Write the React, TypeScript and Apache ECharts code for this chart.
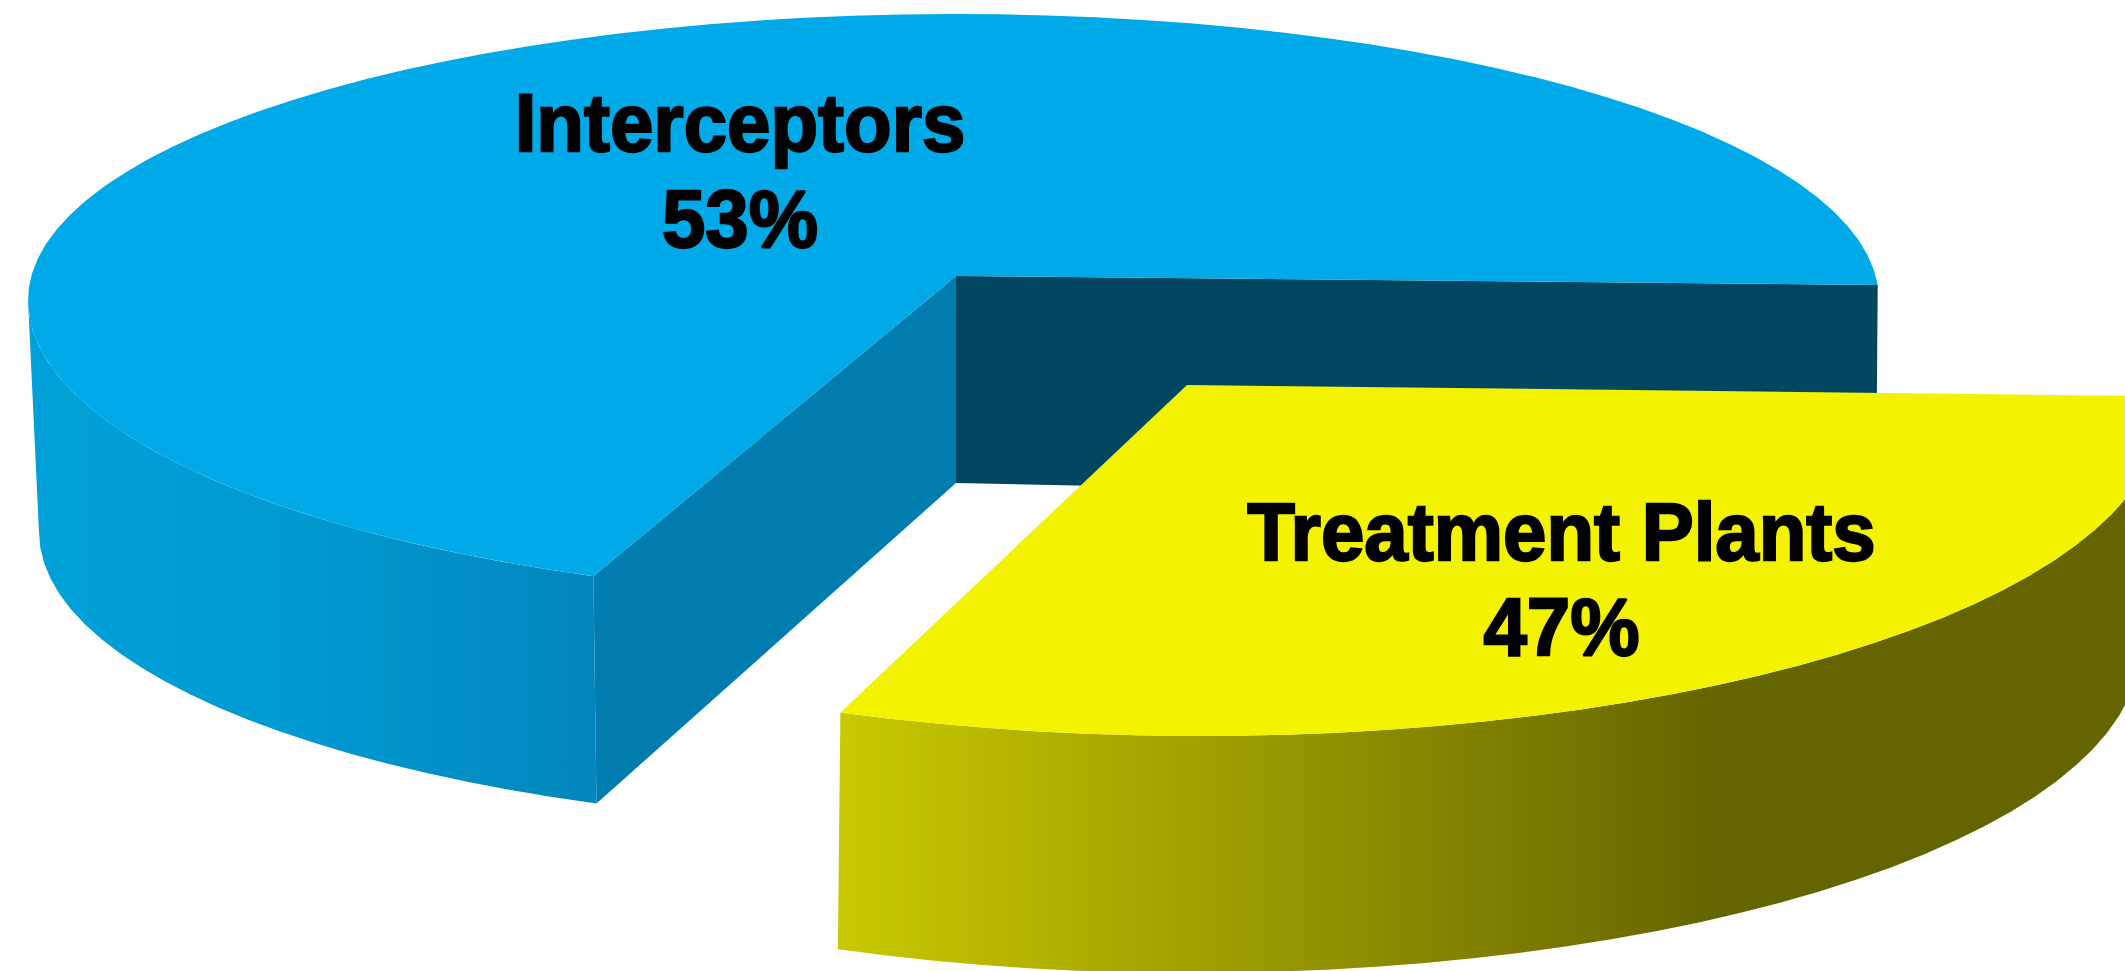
import React, { useEffect, useRef } from "react";
import * as echarts from "echarts";

// Values printed on the chart
const sliceNames = ["Interceptors", "Treatment Plants"];
const sliceValues = [53, 47];
// The picture's 3-D projection does not draw the slices in proportion to the
// printed shares, so the visible arc of each slice is read from the picture (degrees).
const drawnArcStart = [-3, -248];
const drawnArcEnd = [-247, -363];

const WIDTH = 2125;
const HEIGHT = 971;
const FONT = '"Liberation Sans", Arial, sans-serif';

type Rim = { cx: number; cy: number; rxLeft: number; rxRight: number; ryBack: number; ryFront: number };
const apexTop = [[956, 276], [1187, 385]];
const apexBottom = [[956, 483], [1187, 590]];
const cutBackBottomRight = [1876, 502];
const topRim: Rim[] = [
  { cx: 956, cy: 300, rxLeft: 928, rxRight: 923, ryBack: 286, ryFront: 300 },
  { cx: 1200, cy: 413, rxLeft: 960, rxRight: 960, ryBack: 323, ryFront: 323 },
];
const bottomRim: Rim[] = [
  { cx: 954, cy: 532, rxLeft: 915, rxRight: 915, ryBack: 290, ryFront: 295 },
  { cx: 1190, cy: 648, rxLeft: 940, rxRight: 950, ryBack: 325, ryFront: 325 },
];
const labelAnchor = [
  { x: 740, y1: 123, y2: 218.5 },
  { x: 1561.5, y1: 531.5, y2: 627 },
];
const topFill = ["#00a9e8", "#f3f300"];
const wallStops = [
  { x: 28, x2: 599, stops: [[0, "#00a1da"], [0.45, "#009ad2"], [1, "#0086bc"]] },
  { x: 837, x2: 1723, stops: [[0, "#c9c900"], [1, "#646400"]] },
];
const cutFrontFill = "#007dae";
const cutBackFill = "#004660";

const point = (r: Rim, deg: number): number[] => {
  const a = (deg * Math.PI) / 180;
  const s = Math.sin(a);
  const c = Math.cos(a);
  return [r.cx + (c < 0 ? r.rxLeft : r.rxRight) * c, r.cy + (s < 0 ? r.ryBack : r.ryFront) * s];
};

const arc = (r: Rim, from: number, to: number): number[][] => {
  const n = Math.max(2, Math.round(Math.abs(to - from) / 3));
  const pts: number[][] = [];
  for (let i = 0; i <= n; i++) pts.push(point(r, from + ((to - from) * i) / n));
  return pts;
};

const renderSlice = (params: any, api: any) => {
  const i = params.dataIndex;
  const start = drawnArcStart[i];
  const end = drawnArcEnd[i];
  const top = topRim[i];
  const bottom = bottomRim[i];
  const children: any[] = [];
  const poly = (points: number[][], fill: any) => ({
    type: "polygon",
    shape: { points },
    style: { fill, stroke: null },
    silent: true,
  });

  if (i === 0) {
    children.push(poly([apexTop[0], point(top, start), cutBackBottomRight, apexBottom[0]], cutBackFill));
    children.push(poly([apexTop[0], point(top, end), point(bottom, end), apexBottom[0]], cutFrontFill));
  }

  const w = wallStops[i];
  const wallFill = {
    type: "linear",
    global: true,
    x: w.x,
    y: 0,
    x2: w.x2,
    y2: 0,
    colorStops: w.stops.map(([offset, color]) => ({ offset, color })),
  };
  // the outer wall is visible only on the near half of the rim
  const wallFrom = i === 0 ? -180 : end;
  const wallTo = i === 0 ? end : -248;
  children.push(poly([...arc(top, wallFrom, wallTo), ...arc(bottom, wallTo, wallFrom)], wallFill));

  children.push(poly([apexTop[i], ...arc(top, start, end)], topFill[i]));

  const l = labelAnchor[i];
  const textStyle = {
    align: "center",
    verticalAlign: "middle",
    fontFamily: FONT,
    fontWeight: "bold",
    fontSize: 78,
    fill: "#000000",
    stroke: "#000000",
    lineWidth: 2.2,
    x: 0,
    y: 0,
  };
  children.push({ type: "text", silent: true, x: l.x, y: l.y1, scaleY: 1.04, style: { ...textStyle, text: sliceNames[i] } });
  children.push({ type: "text", silent: true, x: l.x, y: l.y2, scaleY: 1.04, style: { ...textStyle, text: `${api.value(0)}%` } });
  return { type: "group", children };
};

export default function App() {
  const ref = useRef<HTMLDivElement>(null);
  useEffect(() => {
    document.body.style.margin = "0";
    const chart = echarts.init(ref.current!, undefined, { renderer: "svg" });
    chart.setOption({
      animation: false,
      backgroundColor: "#ffffff",
      series: [
        {
          type: "custom",
          coordinateSystem: "none",
          clip: false,
          renderItem: renderSlice,
          data: sliceNames.map((name, i) => ({ name, value: [sliceValues[i]] })),
        },
      ],
    });
    return () => chart.dispose();
  }, []);
  return <div ref={ref} style={{ position: "fixed", left: 0, top: 0, width: WIDTH, height: HEIGHT }} />;
}
